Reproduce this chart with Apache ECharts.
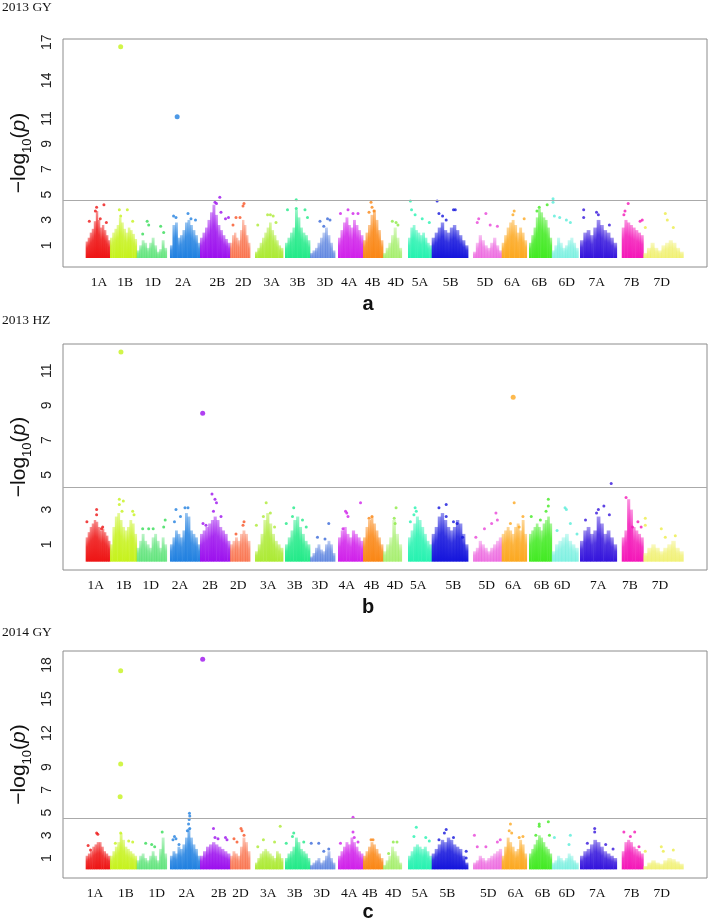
<!DOCTYPE html>
<html><head><meta charset="utf-8">
<script src="https://cdn.jsdelivr.net/npm/echarts@6/dist/echarts.min.js"></script>
<style>html,body{margin:0;padding:0;background:#fff}#c{width:710px;height:920px}</style>
</head><body><div id="c"></div><script>
// ---------- data ----------
const chromosomes = ['1A','1B','1D','2A','2B','2D','3A','3B','3D','4A','4B','4D','5A','5B','5D','6A','6B','6D','7A','7B','7D'];
const chrStart = [35.2,73.0,114.4,166.1,212.7,259.3,298.1,344.7,383.5,427.0,465.9,496.9,535.7,572.5,636.6,681.2,723.6,758.9,802.8,867.6,901.1];
const chrEnd   = [73.0,114.4,161.0,212.7,259.3,290.4,341.6,383.5,422.4,465.9,496.9,525.9,572.5,628.9,681.2,720.0,758.9,800.2,859.8,901.1,963.2];
const chrColors = ['#ee1414','#c6f21c','#34dc56','#2080e0','#9c10ee','#f85224','#acea34','#22ea88','#3868d8','#d020ea','#fa8614','#8cea44','#26f2b0','#1414dc','#e844d8','#fca820','#42ea22','#58ecd8','#3414dc','#f416b8','#ecec48'];

const panelTitles = ['2013 GY','2013 HZ','2014 GY'];
const panelLetters = ['a','b','c'];

const yTicksA = [1,3,5,7,9,11,14,17];
const yTicksB = [1,3,5,7,9,11];
const yTicksC = [1,3,5,7,9,12,15,18];
const yRangeA = [-0.71,17.26];
const yRangeB = [-0.48,12.54];
const yRangeC = [-0.76,19.23];
const thresholdA = 4.53;
const thresholdB = 4.26;
const thresholdC = 4.46;

const labelPosA = [55.9,96.3,139.3,186.8,239.6,280.0,324.1,364.4,406.8,444.6,480.9,516.6,554.3,602.0,655.3,697.7,739.6,782.2,828.7,883.1,929.7];
const labelPosB = [50.8,94.7,136.2,181.7,228.3,272.2,318.8,360.2,399.1,440.5,479.3,515.5,551.7,606.1,657.9,699.2,743.3,775.3,831.2,880.4,927.0];
const labelPosC = [49.7,97.8,145.5,192.1,242.2,275.5,318.8,360.2,401.7,444.6,476.7,512.9,554.3,596.7,660.4,702.9,744.9,782.2,829.7,883.1,929.7];

// dense SNP cloud heights along each chromosome (-log10 p)
const colsA = [
 [1.3,1.6,2.0,2.3,2.9,3.7,3.0,2.4,2.6,2.2,1.8,1.4],
 [1.6,2.0,2.3,2.6,3.2,2.8,2.3,2.0,2.4,2.2,1.9,1.5],
 [0.6,1.0,1.4,1.2,0.8,1.2,1.6,1.0,0.5,0.7,1.4,0.8],
 [1.0,2.6,2.8,1.6,1.8,2.2,2.8,3.0,2.6,2.2,1.8,1.2],
 [1.6,2.0,2.4,3.0,3.6,4.2,3.4,2.6,2.2,1.8,1.5,1.2],
 [1.2,1.8,2.0,1.6,1.4,2.2,3.0,2.6,1.8,1.2],
 [0.5,0.8,1.2,1.6,2.0,2.4,2.8,2.2,1.8,1.4,1.0,0.8],
 [1.2,1.6,2.0,2.4,3.8,3.2,2.4,2.0,1.8,1.4],
 [0.4,0.6,0.8,1.2,1.6,2.0,2.4,1.8,1.2,0.6],
 [1.6,2.2,2.8,3.2,2.6,2.4,3.0,2.6,2.2,1.8],
 [1.4,2.0,2.6,3.4,3.8,3.0,2.2,1.4],
 [0.4,0.8,1.2,1.8,2.4,1.6,0.8],
 [1.6,2.4,2.6,2.2,2.0,1.8,2.0,1.6,1.2,1.0],
 [1.6,2.0,2.4,2.8,2.2,2.0,2.4,2.6,2.2,1.8,1.4,1.0],
 [0.5,1.2,1.8,1.4,1.0,0.8,1.2,1.6,1.0,0.6],
 [1.2,1.8,2.4,2.8,3.0,2.6,2.0,2.4,2.0,1.4],
 [1.2,1.8,2.4,3.2,3.9,3.6,3.2,3.0,2.4,1.6],
 [0.6,1.0,1.6,1.2,0.8,1.0,1.4,1.6,1.2,0.8],
 [1.4,2.0,2.2,1.8,2.4,3.0,2.6,2.2,2.0,1.6,1.2],
 [2.4,3.0,2.8,2.6,2.4,2.2,2.0,1.8],
 [0.4,0.8,1.2,0.8,0.6,1.0,1.2,1.4,1.2,0.8,0.5]
];
// scattered SNPs above the cloud: [relative position in chromosome, -log10 p]
const dotsA = [
 [[0.45,4.0],[0.4,3.7],[0.75,4.2],[0.15,2.9],[0.6,3.1],[0.85,2.8]],
 [[0.35,3.8],[0.65,3.8],[0.4,3.3],[0.85,2.9]],
 [[0.35,2.9],[0.4,2.6],[0.2,1.9],[0.8,2.5],[0.9,2.0]],
 [[0.12,3.3],[0.2,3.2],[0.6,3.5],[0.7,3.1],[0.85,3.0]],
 [[0.66,4.78],[0.5,4.4],[0.55,4.3],[0.7,3.6],[0.85,3.1],[0.95,3.2]],
 [[0.7,4.3],[0.65,4.1],[0.3,3.2],[0.15,2.6],[0.5,3.2]],
 [[0.45,3.4],[0.55,3.4],[0.65,3.3],[0.1,2.6],[0.75,2.8]],
 [[0.45,4.6],[0.45,3.9],[0.1,3.8],[0.8,3.8],[0.9,3.2]],
 [[0.4,2.9],[0.7,3.1],[0.8,3.0],[0.55,2.5]],
 [[0.1,3.5],[0.4,3.8],[0.6,3.5],[0.8,3.5]],
 [[0.4,4.4],[0.45,4.0],[0.55,3.7],[0.3,3.6]],
 [[0.5,2.9],[0.7,2.8],[0.8,2.6]],
 [[0.1,4.5],[0.15,3.8],[0.3,3.4],[0.6,3.1],[0.9,2.8]],
 [[0.15,4.5],[0.2,3.5],[0.3,3.3],[0.6,3.8],[0.65,3.8],[0.4,3.0]],
 [[0.2,3.1],[0.45,3.5],[0.15,2.8],[0.6,2.6],[0.85,2.5]],
 [[0.5,3.7],[0.45,3.4],[0.9,3.1]],
 [[0.45,4.0],[0.8,4.2],[0.35,3.7]],
 [[0.05,4.67],[0.05,4.4],[0.1,3.3],[0.3,3.2],[0.55,3.0],[0.7,2.8]],
 [[0.1,3.8],[0.45,3.6],[0.1,3.2],[0.5,3.4],[0.8,2.6]],
 [[0.3,4.3],[0.15,3.7],[0.1,3.4],[0.85,2.9],[0.95,3.0]],
 [[0.05,2.4],[0.55,3.5],[0.6,3.0],[0.75,2.4]]
];
// significant peaks: [chromosome index, relative position, -log10 p]
const peaksA = [[1,0.40,16.65],[3,0.24,11.13]];

const colsB = [
 [1.4,1.7,2.0,2.2,2.4,2.3,2.0,1.8,1.9,1.7,1.5,1.2],
 [1.0,2.0,2.6,2.8,2.4,2.0,1.8,2.0,2.4,2.2,1.6],
 [0.8,1.2,1.6,1.2,1.0,0.8,1.4,1.6,1.2,0.8,1.4,1.0],
 [1.0,1.4,1.8,1.6,1.4,1.8,2.8,2.6,1.8,1.6,1.4,1.0],
 [1.6,1.8,2.0,2.2,2.4,2.6,2.4,2.0,1.8,1.6,1.2],
 [1.0,1.2,1.4,1.2,1.6,1.8,1.6,1.2],
 [0.6,1.0,1.6,2.4,2.8,2.2,1.6,1.2,1.0,0.8],
 [1.0,1.4,1.8,2.4,2.6,2.0,1.6,1.2,1.0],
 [0.3,0.5,0.8,1.0,0.7,0.6,1.0,1.2,1.0,0.5],
 [1.4,1.8,2.0,1.6,1.4,1.8,1.6,1.4,1.2],
 [1.4,2.0,2.4,2.6,2.2,1.8,1.4,1.0],
 [0.6,1.0,1.4,2.4,1.6,1.0],
 [1.4,1.8,2.2,2.6,2.4,2.0,1.6,1.2,1.0],
 [1.6,2.0,2.6,2.8,2.4,2.0,1.8,2.0,2.4,2.2,1.6,1.0],
 [0.6,0.8,1.2,1.0,0.8,0.6,0.8,1.0,1.2,1.4],
 [1.6,1.8,2.0,1.8,1.6,2.0,2.2,1.8,2.4,1.6],
 [1.6,1.8,2.0,2.2,2.0,1.8,2.2,2.4,2.6,2.2],
 [0.6,1.0,1.2,1.4,1.6,1.2,1.0,0.8],
 [1.2,1.8,2.0,1.6,1.8,2.6,2.2,1.6,1.8,1.4,1.0],
 [1.4,1.8,3.6,3.0,2.0,1.8,1.6,1.4],
 [0.5,0.8,1.0,0.8,0.6,0.8,1.0,1.2,0.8,0.6]
];
const dotsB = [
 [[0.45,3.0],[0.45,2.7],[0.05,2.3],[0.7,2.0],[0.65,1.9]],
 [[0.35,3.6],[0.5,3.5],[0.35,3.3],[0.45,2.9],[0.85,2.9],[0.9,2.7]],
 [[0.2,1.9],[0.4,1.9],[0.55,1.9],[0.95,2.4],[0.9,2.0]],
 [[0.15,2.3],[0.2,3.0],[0.5,3.1],[0.35,2.6],[0.6,3.1]],
 [[0.4,3.9],[0.5,3.6],[0.55,3.4],[0.45,2.9],[0.7,2.6],[0.1,2.2],[0.2,2.1]],
 [[0.7,2.3],[0.65,2.1],[0.3,1.6]],
 [[0.4,3.4],[0.55,2.8],[0.05,2.1],[0.7,2.0],[0.3,2.6]],
 [[0.35,3.1],[0.3,2.6],[0.05,2.2],[0.85,2.0],[0.7,2.4]],
 [[0.75,2.2],[0.3,1.4],[0.6,1.3]],
 [[0.3,2.9],[0.35,2.8],[0.4,2.6],[0.2,1.9],[0.9,3.4]],
 [[0.45,2.6],[0.3,2.5]],
 [[0.7,3.1],[0.6,2.5],[0.65,2.2]],
 [[0.3,3.1],[0.35,2.9],[0.1,2.3],[0.25,2.7]],
 [[0.2,3.1],[0.4,3.3],[0.4,2.6],[0.6,2.3],[0.7,2.2],[0.85,1.4]],
 [[0.4,1.9],[0.65,2.2],[0.8,2.8],[0.85,2.4],[0.1,1.4]],
 [[0.5,3.4],[0.85,2.6],[0.35,2.2],[0.7,2.0]],
 [[0.85,3.6],[0.85,3.2],[0.75,2.9],[0.1,2.6],[0.5,2.4]],
 [[0.5,3.1],[0.55,3.0],[0.2,1.8],[0.7,2.2],[0.95,1.6]],
 [[0.15,2.4],[0.45,2.8],[0.5,3.0],[0.65,3.2],[0.8,2.7],[0.85,4.5]],
 [[0.2,3.7],[0.5,2.0],[0.75,2.3],[0.9,2.0]],
 [[0.05,2.5],[0.05,2.1],[0.45,1.9],[0.55,1.4],[0.8,1.5]]
];
const peaksB = [[1,0.41,12.08],[4,0.09,8.55],[15,0.46,9.47]];

const colsC = [
 [1.2,1.4,1.6,2.0,2.2,2.4,2.4,2.0,1.6,1.4,1.2],
 [1.2,1.6,2.0,2.4,3.2,2.6,2.0,1.8,1.6,1.4,1.2],
 [0.8,1.2,1.4,1.0,0.8,1.2,1.6,1.2,0.8,1.8,2.8,1.4],
 [1.2,1.6,1.4,2.0,1.8,2.2,2.8,3.6,2.8,2.2,1.8,1.2],
 [1.2,1.6,2.0,2.2,2.4,2.2,2.0,1.8,1.6,1.4],
 [1.2,1.6,1.4,1.2,2.0,2.8,2.4,1.6],
 [0.6,1.0,1.4,1.6,1.8,1.6,1.4,1.2,1.0,1.6,1.4,1.0],
 [1.0,1.4,1.6,2.0,2.8,2.4,1.8,1.6,1.4,1.0],
 [0.4,0.6,0.8,1.0,0.6,0.8,1.2,1.6,1.0,0.6],
 [1.2,1.6,2.0,2.4,2.2,2.8,2.4,2.0,1.6,1.4],
 [1.2,1.6,2.0,2.4,2.2,1.8,1.4,1.0],
 [0.4,0.8,1.2,2.0,1.6,1.2,0.6],
 [1.2,1.6,2.0,2.2,2.0,1.8,2.0,1.6,1.2],
 [1.4,1.8,2.2,2.6,2.4,2.8,2.6,2.2,2.0,1.8,1.2,0.6],
 [0.6,0.8,1.2,1.0,0.8,1.0,1.2,1.4,1.6,1.8],
 [1.2,2.0,2.8,2.4,2.0,1.6,1.8,2.6,2.2,1.4],
 [1.4,1.8,2.2,2.6,3.0,2.8,2.4,2.0,1.8,1.4],
 [0.6,0.8,1.2,1.0,0.8,1.0,1.4,1.2,0.8,0.6],
 [1.2,1.6,1.8,2.2,2.6,2.4,2.0,1.6,1.4,1.2,1.0],
 [1.6,2.4,2.6,2.4,2.0,1.8,1.6,1.4],
 [0.3,0.6,0.8,0.6,0.5,0.8,1.0,0.9,0.7,0.5]
];
const dotsC = [
 [[0.45,3.2],[0.5,3.1],[0.1,2.1],[0.2,1.7]],
 [[0.4,3.2],[0.7,2.5],[0.85,2.4],[0.2,2.3]],
 [[0.85,3.3],[0.3,2.3],[0.6,2.0],[0.5,2.2]],
 [[0.65,4.95],[0.66,4.7],[0.64,4.4],[0.62,4.0],[0.66,3.6],[0.58,3.4],[0.1,2.6],[0.15,2.9],[0.2,2.7],[0.3,2.2]],
 [[0.45,3.6],[0.5,2.8],[0.6,2.7],[0.85,2.8],[0.9,2.6]],
 [[0.55,3.6],[0.6,3.4],[0.7,3.0],[0.2,2.7],[0.35,2.4]],
 [[0.9,3.8],[0.3,2.6],[0.1,2.0],[0.7,2.4]],
 [[0.35,3.2],[0.3,2.9],[0.75,2.4],[0.05,2.3]],
 [[0.05,2.3],[0.35,2.3],[0.75,1.8],[0.55,1.6]],
 [[0.6,4.6],[0.6,3.3],[0.65,2.8],[0.1,2.3],[0.8,2.4]],
 [[0.4,2.6],[0.5,2.6]],
 [[0.55,2.4],[0.75,2.4],[0.3,1.4]],
 [[0.35,3.7],[0.25,2.9],[0.75,2.8],[0.9,2.5]],
 [[0.4,3.5],[0.35,3.2],[0.2,2.6],[0.6,2.8],[0.95,1.6],[0.95,1.0]],
 [[0.05,3.0],[0.15,2.0],[0.45,2.0],[0.85,2.4],[0.95,2.6]],
 [[0.35,4.0],[0.3,3.4],[0.4,3.2],[0.7,2.8],[0.85,2.9]],
 [[0.45,4.0],[0.45,3.8],[0.3,3.0],[0.85,4.2],[0.9,3.0]],
 [[0.1,2.8],[0.7,3.0],[0.65,2.2]],
 [[0.4,3.6],[0.4,3.3],[0.2,2.3],[0.7,2.2],[0.9,1.8]],
 [[0.1,3.3],[0.6,3.3],[0.4,2.9],[0.8,2.0]],
 [[0.05,1.6],[0.45,2.0],[0.5,1.6],[0.75,1.7]]
];
const peaksC = [[1,0.40,17.5],[1,0.40,9.27],[1,0.38,6.4],[4,0.09,18.5]];

// ---------- chart ----------
const chart = echarts.init(document.getElementById('c'), null, {renderer: 'canvas'});
const grids = [
  {left: 63, top: 39, width: 644, height: 228},
  {left: 63, top: 344, width: 644, height: 226},
  {left: 63, top: 651, width: 644, height: 227}
];
const panels = [
  {cols: colsA, dots: dotsA, peaks: peaksA, ticks: yTicksA, range: yRangeA, thr: thresholdA, labels: labelPosA},
  {cols: colsB, dots: dotsB, peaks: peaksB, ticks: yTicksB, range: yRangeB, thr: thresholdB, labels: labelPosB},
  {cols: colsC, dots: dotsC, peaks: peaksC, ticks: yTicksC, range: yRangeC, thr: thresholdC, labels: labelPosC}
];
function isD(c) { return chromosomes[c].slice(-1) === 'D'; }
function posOf(c, rel) { return chrStart[c] + rel * (chrEnd[c] - chrStart[c]); }
function rgba(hex, a) {
  const n = parseInt(hex.slice(1), 16);
  return 'rgba(' + ((n >> 16) & 255) + ',' + ((n >> 8) & 255) + ',' + (n & 255) + ',' + a + ')';
}

const xAxes = [], yAxes = [], series = [];
panels.forEach(function (p, k) {
  const labelPos = p.labels;
  xAxes.push({
    type: 'value', gridIndex: k, min: 0, max: 1000,
    axisLine: {show: false}, axisTick: {show: false}, splitLine: {show: false},
    axisLabel: {
      customValues: labelPos, margin: 8, hideOverlap: false,
      fontFamily: 'Liberation Serif', fontSize: 13.5, color: '#111',
      formatter: function (v) {
        let best = 0;
        for (let i = 0; i < labelPos.length; i++) if (Math.abs(labelPos[i] - v) < Math.abs(labelPos[best] - v)) best = i;
        return chromosomes[best];
      }
    }
  });
  yAxes.push({
    type: 'value', gridIndex: k, min: p.range[0], max: p.range[1],
    axisLine: {show: false}, axisTick: {show: false}, splitLine: {show: false},
    axisLabel: {customValues: p.ticks, rotate: 90, margin: 9, fontFamily: 'Liberation Sans', fontSize: 14, color: '#222'},
    name: '{m|\u2212log}{s|10}{m|(}{i|p}{m|)}',
    nameLocation: 'middle', nameRotate: 90, nameGap: 29, nameMoveOverlap: false,
    nameTextStyle: {
      rich: {
        m: {fontFamily: 'Liberation Sans', fontSize: 21, color: '#111', padding: [0, 0, 4, 0]},
        i: {fontFamily: 'Liberation Sans', fontSize: 21, fontStyle: 'italic', color: '#111', padding: [0, 0, 4, 0]},
        s: {fontFamily: 'Liberation Sans', fontSize: 13, color: '#111', verticalAlign: 'bottom'}
      }
    }
  });
  // dense clouds
  const colData = [];
  p.cols.forEach(function (arr, c) {
    const n = arr.length;
    arr.forEach(function (h, i) {
      colData.push([posOf(c, i / n), posOf(c, (i + 1) / n), h, c]);
    });
  });
  series.push({
    type: 'custom', xAxisIndex: k, yAxisIndex: k, silent: true, animation: false, clip: true,
    data: colData,
    renderItem: function (params, api) {
      const c = api.value(3);
      const a = api.coord([api.value(0), api.value(2)]);
      const b = api.coord([api.value(1), 0]);
      const base = isD(c) ? 0.72 : 1;
      const fill = new echarts.graphic.LinearGradient(0, 0, 0, 1, [
        {offset: 0, color: rgba(chrColors[c], 0.45 * base)},
        {offset: 0.4, color: rgba(chrColors[c], 0.85 * base)},
        {offset: 1, color: rgba(chrColors[c], base)}
      ]);
      return {type: 'rect', shape: {x: a[0], y: a[1], width: b[0] - a[0] + 0.4, height: b[1] - a[1]},
        style: {fill: fill}};
    }
  });
  // scattered SNPs
  const dotData = [];
  p.dots.forEach(function (arr, c) {
    arr.forEach(function (d) {
      dotData.push({value: [posOf(c, d[0]), d[1]], itemStyle: {color: chrColors[c]}});
    });
  });
  series.push({
    type: 'scatter', xAxisIndex: k, yAxisIndex: k, silent: true, animation: false,
    symbolSize: 3, data: dotData,
    markLine: {silent: true, symbol: 'none', animation: false, label: {show: false},
      lineStyle: {color: '#aaaaaa', width: 1, type: 'solid'}, data: [{yAxis: p.thr}]}
  });
  // peaks
  series.push({
    type: 'scatter', xAxisIndex: k, yAxisIndex: k, silent: true, animation: false,
    symbolSize: 5,
    data: p.peaks.map(function (q) { return {value: [posOf(q[0], q[1]), q[2]], itemStyle: {color: chrColors[q[0]]}}; })
  });
});

const graphics = [];
const titleY = [7, 320, 632];
const letterY = [304, 607, 912];
for (let k = 0; k < 3; k++) {
  graphics.push({type: 'text', x: 2, y: titleY[k], silent: true,
    style: {text: panelTitles[k], font: '13.5px "Liberation Serif"', fill: '#111', textAlign: 'left', textVerticalAlign: 'middle'}});
  graphics.push({type: 'text', x: 368, y: letterY[k], silent: true,
    style: {text: panelLetters[k], font: 'bold 20px "Liberation Sans"', fill: '#111', textAlign: 'center', textVerticalAlign: 'middle'}});
}

chart.setOption({
  backgroundColor: '#ffffff',
  animation: false,
  grid: grids.map(function (g) { return Object.assign({show: true, borderColor: '#8c8c8c', borderWidth: 1, backgroundColor: 'transparent', containLabel: false, outerBoundsMode: 'none'}, g); }),
  xAxis: xAxes,
  yAxis: yAxes,
  series: series,
  graphic: graphics
});
</script></body></html>
